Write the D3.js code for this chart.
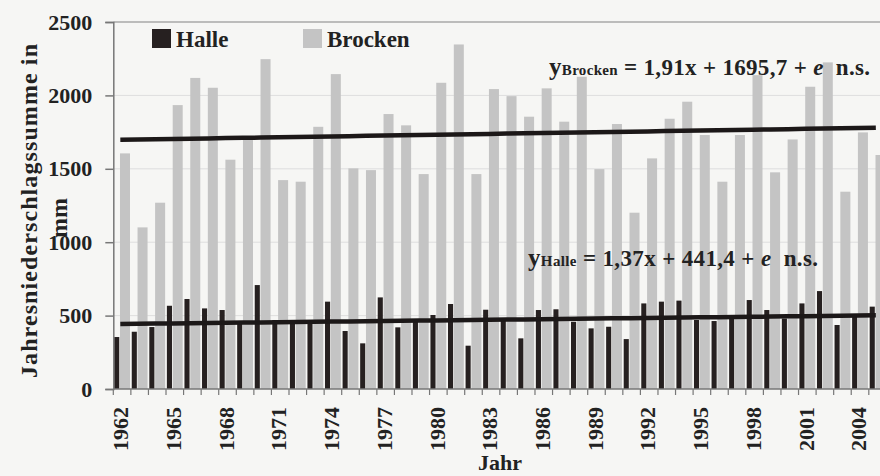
<!DOCTYPE html>
<html>
<head>
<meta charset="utf-8">
<script src="https://cdn.jsdelivr.net/npm/d3@7"></script>
<style>
  body { margin: 0; background: #f6f6f4; }
  svg { display: block; font-family: "Liberation Serif", "Times New Roman", serif; font-weight: bold; }
</style>
</head>
<body>
<div id="chart"></div>
<script>
// Jahresniederschlagssumme (mm), Halle und Brocken
const years = [1962, 1963, 1964, 1965, 1966, 1967, 1968, 1969, 1970, 1971, 1972, 1973, 1974, 1975,
  1976, 1977, 1978, 1979, 1980, 1981, 1982, 1983, 1984, 1985, 1986, 1987, 1988, 1989, 1990,
  1991, 1992, 1993, 1994, 1995, 1996, 1997, 1998, 1999, 2000, 2001, 2002, 2003, 2004, 2005]
const halle = [354, 390, 422, 567, 613, 549, 538, 460, 708, 470, 460, 465, 595, 395,
  311, 624, 420, 458, 504, 579, 295, 540, 475, 345, 538, 543, 458, 413, 424,
  340, 583, 595, 602, 470, 463, 480, 606, 538, 480, 583, 667, 436, 500, 561]
const brocken = [1605, 1101, 1269, 1934, 2119, 2052, 1562, 1696, 2247, 1423, 1412, 1786, 2145, 1503,
  1491, 1873, 1796, 1464, 2086, 2347, 1464, 2043, 1995, 1855, 2048, 1821, 2127, 1498, 1805,
  1201, 1571, 1841, 1957, 1730, 1412, 1730, 2138, 1476, 1700, 2059, 2225, 1344, 1748, 1594]
const yTicks = [0, 500, 1000, 1500, 2000, 2500]
const trendBrocken = { a: 1.91, b: 1695.7 }
const trendHalle = { a: 1.37, b: 441.4 }

const width = 880, height = 476
const mLeft = 113.3, mTop = 22, mBottom = 389
const step = 17.57

const svg = d3.select("#chart").append("svg")
    .attr("width", width)
    .attr("height", height)

const x = d3.scaleBand()
    .domain(years)
    .range([mLeft, mLeft + step * years.length])
    .paddingInner(0).paddingOuter(0)

const y = d3.scaleLinear()
    .domain([0, 2500])
    .range([mBottom, mTop])

const bw = x.bandwidth()
const comma = v => String(v).replace(".", ",")

// grid
svg.append("g")
  .selectAll("line")
  .data(yTicks.filter(d => d > 0))
  .join("line")
    .attr("x1", mLeft).attr("x2", width)
    .attr("y1", d => y(d)).attr("y2", d => y(d))
    .attr("stroke", d => d === 2500 ? "#a8a8a8" : "#dedede")
    .attr("stroke-width", d => d === 2500 ? 1.5 : 1)

// bars
svg.append("g")
    .attr("fill", "#c4c4c4")
  .selectAll("rect")
  .data(brocken)
  .join("rect")
    .attr("x", (d, i) => x(years[i]) + bw * 0.38)
    .attr("width", bw * 0.57)
    .attr("y", d => y(d))
    .attr("height", d => y(0) - y(d))

svg.append("g")
    .attr("fill", "#262020")
  .selectAll("rect")
  .data(halle)
  .join("rect")
    .attr("x", (d, i) => x(years[i]) + bw * 0.05)
    .attr("width", bw * 0.29)
    .attr("y", d => y(d))
    .attr("height", d => y(0) - y(d))

// trend lines, x = laufende Nummer des Jahres
const trend = ({a, b}) => d3.line()
    .x(d => x(d) + bw * 0.4)
    .y((d, i) => y(a * (i + 1) + b))
svg.append("path")
    .attr("d", trend(trendBrocken)(years))
    .attr("fill", "none").attr("stroke", "#1c1818").attr("stroke-width", 4.5)
svg.append("path")
    .attr("d", trend(trendHalle)(years))
    .attr("fill", "none").attr("stroke", "#1c1818").attr("stroke-width", 4.5)

// y axis
const yAxis = svg.append("g")
    .attr("transform", `translate(${mLeft},0)`)
    .call(d3.axisLeft(y).tickValues(yTicks).tickFormat(d3.format("d")).tickSize(8).tickPadding(13))
    .attr("font-family", null).attr("font-size", null)
yAxis.select(".domain").attr("stroke", "#777").attr("stroke-width", 1.5)
yAxis.selectAll(".tick line").attr("stroke", "#777").attr("stroke-width", 1.5)
yAxis.selectAll("text")
    .attr("font-size", 22).attr("fill", "#222")

// x axis
svg.append("line")
    .attr("x1", mLeft).attr("x2", width)
    .attr("y1", mBottom).attr("y2", mBottom)
    .attr("stroke", "#777").attr("stroke-width", 1.5)
svg.append("g")
  .selectAll("line")
  .data(years)
  .join("line")
    .attr("x1", d => x(d)).attr("x2", d => x(d))
    .attr("y1", mBottom).attr("y2", mBottom + 6)
    .attr("stroke", "#777").attr("stroke-width", 1.2)
svg.append("g")
  .selectAll("text")
  .data(years.filter(d => (d - 1962) % 3 === 0))
  .join("text")
    .attr("transform", d => `translate(${x(d) + bw / 2 - 1.5},${mBottom + 18}) rotate(-90)`)
    .attr("text-anchor", "end")
    .attr("dy", "0.35em")
    .attr("font-size", 22)
    .attr("fill", "#222")
    .text(d => d)

svg.append("text")
    .attr("x", 500).attr("y", 470)
    .attr("text-anchor", "middle")
    .attr("font-size", 22).attr("fill", "#222")
    .text("Jahr")

// y title
svg.append("text")
    .attr("transform", "translate(37,211) rotate(-90)")
    .attr("text-anchor", "middle")
    .attr("font-size", 24).attr("fill", "#222")
    .attr("textLength", 334).attr("lengthAdjust", "spacing")
    .text("Jahresniederschlagssumme in")
svg.append("text")
    .attr("transform", "translate(67,218) rotate(-90)")
    .attr("text-anchor", "middle")
    .attr("font-size", 24).attr("fill", "#222")
    .text("mm")

// legend
const legend = [
  { name: "Halle", color: "#262020", x: 152 },
  { name: "Brocken", color: "#c4c4c4", x: 303 }
]
const lg = svg.append("g").selectAll("g").data(legend).join("g")
    .attr("transform", d => `translate(${d.x},29)`)
lg.append("rect").attr("width", 19).attr("height", 19).attr("fill", d => d.color)
lg.append("text").attr("x", 24).attr("y", 18)
    .attr("font-size", 23).attr("fill", "#222")
    .text(d => d.name)

// equations
function equation(px, py, sub, t, len) {
  const el = svg.append("text").attr("x", px).attr("y", py).attr("fill", "#222").attr("font-size", 23)
    .attr("xml:space", "preserve")
  el.append("tspan").attr("font-size", 25).text("y")
  el.append("tspan").attr("font-size", 15).text(sub)
  el.append("tspan").text(` = ${comma(t.a)}x + ${comma(t.b)} + `)
  el.append("tspan").attr("font-style", "italic").text("e")
  el.append("tspan").text("  n.s.")
  el.attr("textLength", len).attr("lengthAdjust", "spacing")
}
equation(549, 75, "Brocken", trendBrocken, 321)
equation(528, 266, "Halle", trendHalle, 290)
</script>
</body>
</html>
